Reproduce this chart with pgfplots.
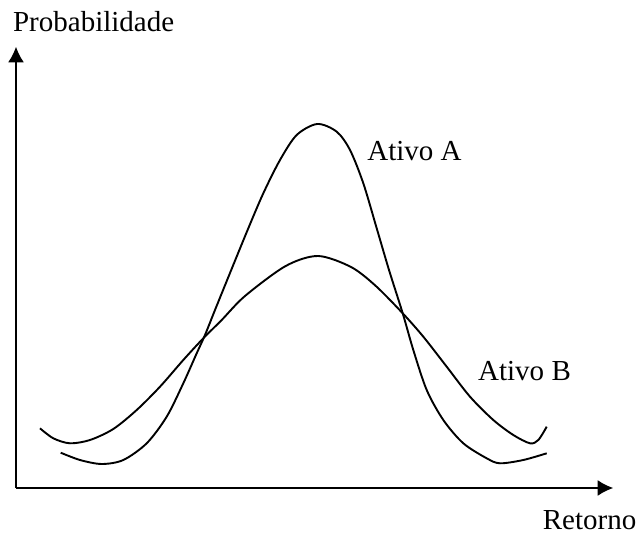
\documentclass[border=0pt]{standalone}
\usepackage{pgfplots}
\pgfplotsset{compat=1.18}
\usepackage{fontspec}
\setmainfont{Liberation Serif}
\usetikzlibrary{arrows.meta}
\begin{document}
\begin{tikzpicture}
\begin{axis}[
  x=0.5pt, y=0.5pt,
  xmin=16, xmax=613.3, ymin=0, ymax=441.3,
  axis lines=left,
  axis line style={line width=1pt, -{Latex[length=7.8pt,width=8pt]}},
  ticks=none,
  clip=false,
]
% Ativo A
\addplot[line width=0.95pt, black, smooth, tension=0.5, mark=none] coordinates {
(60.7,35.3) (80,28) (101.7,24) (123.3,28) (146.7,44.7) (166.7,71.3) (183.3,104.7)
(196.7,134.7) (205,153) (215,178) (230,215) (248.3,259.7) (263.3,294.7)
(280,328) (296.7,353) (317.3,364) (336.7,356.3) (350,338) (363.3,304.7)
(376.7,259.7) (389,218) (402.7,174.7) (413.3,138) (426.7,98) (443.3,68)
(463.3,44.7) (486.7,29.7) (500,24.7) (523.3,28) (546.7,34.7)
};
% Ativo B
\addplot[line width=0.95pt, black, smooth, tension=0.5, mark=none] coordinates {
(40,59.7) (53.3,49.7) (70,44.7) (90,48) (113.3,59) (136.7,78) (160,101.3)
(183.3,128) (203.3,149.7) (221.7,168) (245,192) (285.7,222) (318,232) (351,221)
(375.5,202.3) (402.7,174.7) (423.3,151.3) (446.7,121.3) (470,91.3) (493.3,68)
(513.3,53) (530,44.7) (538.3,48) (546.7,61.3)
};
\node[anchor=base west, font=\fontsize{14.5}{17}\selectfont, inner sep=0pt] at (axis cs:12.7,456) {Probabilidade};
\node[anchor=base east, font=\fontsize{14.5}{17}\selectfont, inner sep=0pt] at (axis cs:636.7,-41) {Retorno};
\node[anchor=base, font=\fontsize{14.5}{17}\selectfont, inner sep=0pt] at (axis cs:414.5,327) {Ativo A};
\node[anchor=base, font=\fontsize{14.5}{17}\selectfont, inner sep=0pt] at (axis cs:524.5,107) {Ativo B};
\path (axis cs:0,-46) rectangle (axis cs:640,488);
\end{axis}
\end{tikzpicture}
\end{document}
